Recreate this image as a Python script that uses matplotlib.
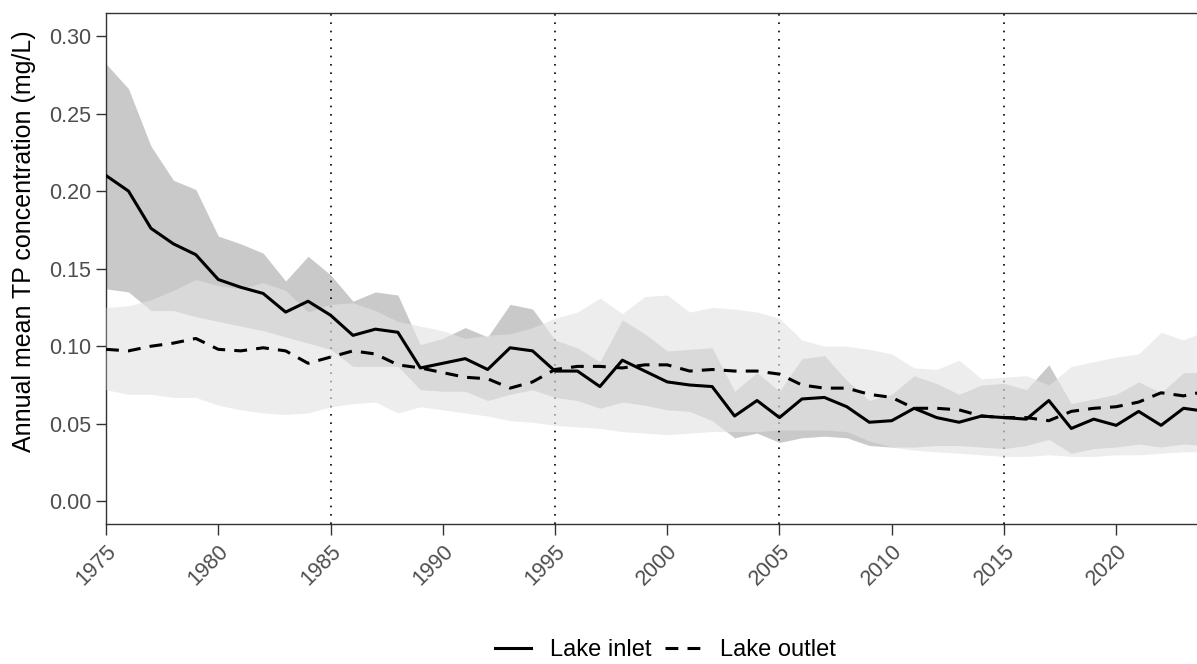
import numpy as np
import matplotlib
matplotlib.use("Agg")
import matplotlib.pyplot as plt
from matplotlib.lines import Line2D

plt.rcParams['font.family'] = ['Liberation Sans', 'DejaVu Sans']

years = np.arange(1975, 2025)

# annual means
inlet_mean = [0.210, 0.200, 0.176, 0.166, 0.159, 0.143, 0.138, 0.134, 0.122, 0.129,
              0.120, 0.107, 0.111, 0.109, 0.086, 0.089, 0.092, 0.085, 0.099, 0.097,
              0.084, 0.084, 0.074, 0.091, 0.084, 0.077, 0.075, 0.074, 0.055, 0.065,
              0.054, 0.066, 0.067, 0.061, 0.051, 0.052, 0.060, 0.054, 0.051, 0.055,
              0.054, 0.053, 0.065, 0.047, 0.053, 0.049, 0.058, 0.049, 0.060, 0.058]
outlet_mean = [0.098, 0.097, 0.100, 0.102, 0.105, 0.098, 0.097, 0.099, 0.097, 0.089,
               0.093, 0.097, 0.095, 0.088, 0.086, 0.083, 0.080, 0.079, 0.073, 0.077,
               0.085, 0.087, 0.087, 0.086, 0.088, 0.088, 0.084, 0.085, 0.084, 0.084,
               0.082, 0.075, 0.073, 0.073, 0.069, 0.067, 0.060, 0.060, 0.059, 0.055,
               0.054, 0.054, 0.052, 0.058, 0.060, 0.061, 0.064, 0.070, 0.068, 0.071]

# spread across sites
inlet_lo = [0.137, 0.135, 0.123, 0.123, 0.119, 0.116, 0.113, 0.110, 0.106, 0.102,
            0.098, 0.087, 0.087, 0.087, 0.072, 0.071, 0.071, 0.065, 0.069, 0.072,
            0.067, 0.065, 0.060, 0.064, 0.062, 0.059, 0.058, 0.052, 0.041, 0.044,
            0.038, 0.041, 0.042, 0.041, 0.036, 0.035, 0.035, 0.036, 0.036, 0.035,
            0.034, 0.036, 0.040, 0.031, 0.034, 0.035, 0.037, 0.035, 0.037, 0.036]
inlet_hi = [0.282, 0.266, 0.229, 0.207, 0.201, 0.171, 0.166, 0.160, 0.142, 0.158,
            0.146, 0.129, 0.135, 0.133, 0.101, 0.105, 0.112, 0.106, 0.127, 0.124,
            0.104, 0.099, 0.090, 0.117, 0.108, 0.097, 0.098, 0.099, 0.071, 0.083,
            0.071, 0.092, 0.094, 0.078, 0.065, 0.069, 0.081, 0.076, 0.069, 0.075,
            0.076, 0.072, 0.088, 0.063, 0.066, 0.069, 0.077, 0.070, 0.083, 0.083]
outlet_lo = [0.072, 0.069, 0.069, 0.067, 0.067, 0.062, 0.059, 0.057, 0.056, 0.057,
             0.061, 0.063, 0.064, 0.057, 0.061, 0.059, 0.057, 0.055, 0.052, 0.051,
             0.049, 0.048, 0.047, 0.045, 0.044, 0.043, 0.044, 0.045, 0.045, 0.045,
             0.046, 0.046, 0.046, 0.045, 0.039, 0.035, 0.033, 0.032, 0.031, 0.030,
             0.029, 0.029, 0.030, 0.029, 0.029, 0.030, 0.030, 0.031, 0.032, 0.032]
outlet_hi = [0.125, 0.126, 0.130, 0.136, 0.143, 0.139, 0.137, 0.141, 0.136, 0.122,
             0.127, 0.128, 0.123, 0.116, 0.113, 0.110, 0.105, 0.107, 0.108, 0.112,
             0.118, 0.122, 0.131, 0.121, 0.132, 0.133, 0.122, 0.125, 0.124, 0.122,
             0.118, 0.104, 0.100, 0.100, 0.098, 0.095, 0.086, 0.085, 0.091, 0.079,
             0.080, 0.081, 0.075, 0.087, 0.090, 0.093, 0.095, 0.109, 0.104, 0.110]

decade_marks = [1985, 1995, 2005, 2015]
x_ticks = np.arange(1975, 2025, 5)
y_ticks = np.arange(0, 0.31, 0.05)

fig = plt.figure(figsize=(11.97, 6.64), dpi=100)
ax = fig.add_axes([0.0886, 0.2108, 0.9114, 0.7692])

ax.fill_between(years, inlet_lo, inlet_hi, color='#c9c9c9', lw=0, zorder=1)
for yr in decade_marks:
    ax.axvline(yr, color='black', lw=1.2, linestyle=(0, (1, 4)), zorder=2)
ax.fill_between(years, outlet_lo, outlet_hi, color='#e3e3e3', alpha=0.64, lw=0, zorder=3)

ax.plot(years, inlet_mean, color='black', lw=2.2, zorder=4)
ax.plot(years, outlet_mean, color='black', lw=2.2, dashes=(4.2, 3), zorder=4)

ax.set_xlim(1975, 2023.6)
ax.set_ylim(-0.0146, 0.3146)
ax.set_xticks(x_ticks)
ax.set_xticklabels([str(v) for v in x_ticks], rotation=45, ha='right',
                   rotation_mode='anchor')
ax.set_yticks(y_ticks)
ax.set_yticklabels([f'{v:.2f}' for v in y_ticks])

ax.tick_params(axis='both', colors='#333333', labelcolor='#4d4d4d',
               labelsize=15.5, length=7, width=1)
ax.tick_params(axis='x', length=8, pad=4)
ax.spines['right'].set_visible(False)
for side in ['left', 'bottom', 'top']:
    ax.spines[side].set_color('#333333')
    ax.spines[side].set_linewidth(1.0)

ax.set_ylabel('Annual mean TP concentration (mg/L)', fontsize=18, color='black')
ax.yaxis.set_label_coords(-0.064, 0.553)

handles = [Line2D([], [], color='black', lw=2.2),
           Line2D([], [], color='black', lw=2.2, dashes=(4.2, 3))]
fig.legend(handles, ['Lake inlet', 'Lake outlet'], loc='center',
           bbox_to_anchor=(0.556, 0.021), ncol=2, frameon=False, fontsize=17,
           handlelength=1.5, handletextpad=0.8, columnspacing=0.6)

fig.savefig('out.png', dpi=100)
